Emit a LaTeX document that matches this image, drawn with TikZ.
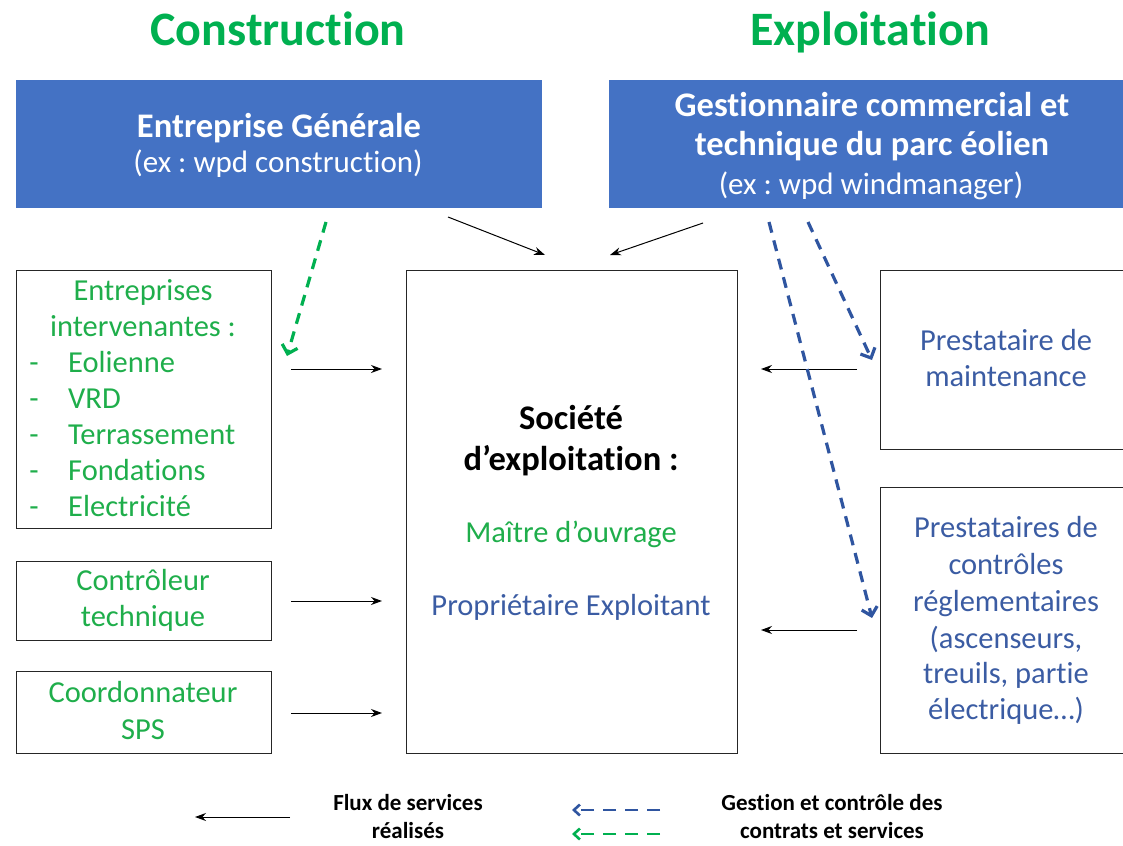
\documentclass[tikz,border=0pt]{standalone}
\usepackage{fontspec}
\setmainfont{Carlito}[Ligatures=NoCommon]
\usetikzlibrary{arrows.meta}
\frenchspacing
\definecolor{boxblue}{HTML}{4472C4}
\definecolor{tgreen}{HTML}{1FAE4B}
\definecolor{tblue}{HTML}{3B5CA3}
\definecolor{dgreen}{HTML}{00B050}
\definecolor{dblue}{HTML}{2F55A0}
\tikzset{
  frame/.style={draw=black!85, line width=1.3pt, inner sep=0pt, anchor=north west},
  hdr/.style={fill=boxblue, draw=none, inner sep=0pt, anchor=north west},
  txt/.style={inner sep=0pt, text height=0.4em, text depth=0.4em},
  body/.style={txt, font=\fontsize{30.5}{36}\selectfont},
  htxt/.style={txt, font=\fontsize{31}{38}\selectfont, text=white},
  hbold/.style={htxt, font=\fontsize{34.5}{38}\selectfont\bfseries},
  title/.style={txt, font=\fontsize{48}{52}\selectfont\bfseries, text=dgreen},
  legtxt/.style={txt, font=\fontsize{23}{28}\selectfont\bfseries},
  flow/.style={line width=1pt, -{Stealth[length=11pt,width=8pt]}},
  mgmt/.style={line width=3.2pt, dash pattern=on 11pt off 8pt, -{Straight Barb[length=8pt,width=16pt,line width=3.2pt]}},
}
\begin{document}
\begin{tikzpicture}[x=1pt,y=-1pt]
\useasboundingbox (0,0) rectangle (1123,845);
% titles
\node[title] (tc) at (278,46) {Construction};
\node[title] (te) at (870,46) {Exploitation};
% header boxes
\node[hdr, minimum width=526pt, minimum height=128pt] (eg) at (16,80) {};
\node[hbold] (eg1) at (279,138) {Entreprise Générale};
\node[htxt] (eg2) at (278,172) {(ex : wpd construction)};
\node[hdr, minimum width=520pt, minimum height=128pt] (gc) at (609,80) {};
\node[hbold] (gc1) at (872,117) {Gestionnaire commercial et};
\node[hbold] (gc2) at (872,156) {technique du parc éolien};
\node[htxt] (gc3) at (871,194) {(ex : wpd windmanager)};
% left boxes
\node[frame, minimum width=255pt, minimum height=258pt] (l1) at (16,270) {};
\node[frame, minimum width=255pt, minimum height=79pt] (l2) at (16,561) {};
\node[frame, minimum width=255pt, minimum height=82pt] (l3) at (16,671) {};
\node[body, text=tgreen] (l1a) at (143,300) {Entreprises};
\node[body, text=tgreen] (l1b) at (143,336) {intervenantes :};
\foreach \y/\w [count=\i] in {372/Eolienne,408/VRD,444/Terrassement,480/Fondations,516/Electricité}{
  \node[body, text=tgreen] (d\i) at (34,\y) {-};
  \node[body, text=tgreen, anchor=west] (w\i) at (68,\y) {\w};
}
\node[body, text=tgreen] (l2a) at (143,590) {Contrôleur};
\node[body, text=tgreen] (l2b) at (143,626) {technique};
\node[body, text=tgreen] (l3a) at (143,702) {Coordonnateur};
\node[body, text=tgreen] (l3b) at (143,739) {SPS};
% centre box
\node[frame, minimum width=331pt, minimum height=483pt] (c) at (406,270) {};
\node[hbold, text=black] (c1) at (571,429) {Société};
\node[hbold, text=black] (c2) at (571,470) {d’exploitation :};
\node[body, text=tgreen] (c3) at (571,542) {Maître d’ouvrage};
\node[body, text=tblue] (c4) at (571,615) {Propriétaire Exploitant};
% right boxes
\node[frame, minimum width=250pt, minimum height=179pt] (r1) at (880,270) {};
\node[frame, minimum width=250pt, minimum height=266pt] (r2) at (880,487) {};
\node[body, text=tblue] (r1a) at (1006,350) {Prestataire de};
\node[body, text=tblue] (r1b) at (1006,386) {maintenance};
\foreach \y/\t [count=\i] in {537/Prestataires de,574/contrôles,611/réglementaires,648/{(ascenseurs,},683/{treuils, partie},719/électrique…)}{
  \node[body, text=tblue] (r2\i) at (1006,\y) {\t};
}
% flows
\coordinate (fa1) at (291,369); \coordinate (fb1) at (382,369);
\coordinate (fa2) at (291,601); \coordinate (fb2) at (382,601);
\coordinate (fa3) at (291,713); \coordinate (fb3) at (382,713);
\coordinate (fa4) at (857,369); \coordinate (fb4) at (761,369);
\coordinate (fa5) at (857,630); \coordinate (fb5) at (761,630);
\coordinate (fa6) at (448,217); \coordinate (fb6) at (545,255);
\coordinate (fa7) at (703,223); \coordinate (fb7) at (610,255);
\foreach \i in {1,...,7}{\draw[flow] (fa\i) -- (fb\i);}
% management
\coordinate (ga) at (326,222); \coordinate (gb) at (287,356);
\draw[mgmt, dgreen] (ga) -- (gb);
\coordinate (ba1) at (808,222); \coordinate (bb1) at (872,360);
\coordinate (ba2) at (769,222); \coordinate (bb2) at (872,618);
\draw[mgmt, dblue] (ba1) -- (bb1);
\draw[mgmt, dblue] (ba2) -- (bb2);
% legend
\coordinate (la) at (290,817); \coordinate (lb) at (195,817);
\draw[flow] (la) -- (lb);
\node[legtxt] (lt1) at (408,810) {Flux de services};
\node[legtxt] (lt2) at (408,838) {réalisés};
\coordinate (ma1) at (660,810); \coordinate (mb1) at (572,810);
\coordinate (ma2) at (660,834); \coordinate (mb2) at (572,834);
\draw[mgmt, dblue, line width=2.6pt, dash pattern=on 13pt off 9pt, -{Straight Barb[length=6pt,width=11pt,line width=2.6pt]}] (ma1) -- (mb1);
\draw[mgmt, dgreen, line width=2.6pt, dash pattern=on 13pt off 9pt, -{Straight Barb[length=6pt,width=11pt,line width=2.6pt]}] (ma2) -- (mb2);
\node[legtxt] (lt3) at (832,810) {Gestion et contrôle des};
\node[legtxt] (lt4) at (832,838) {contrats et services};
\end{tikzpicture}
\end{document}
